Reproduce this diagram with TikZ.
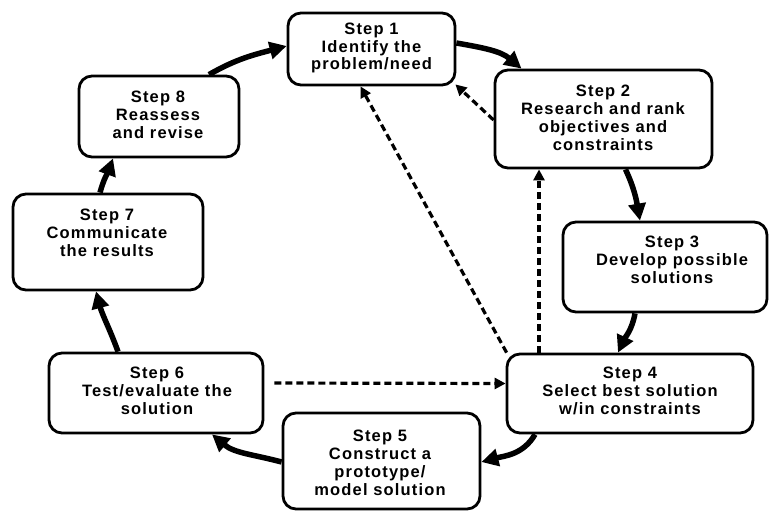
\documentclass[tikz,border=0pt]{standalone}
\usepackage{fontspec}
\setmainfont{Liberation Sans}[LetterSpace=7]
\usetikzlibrary{arrows.meta}
\begin{document}
\begin{tikzpicture}[x=1pt,y=1pt,
  box/.style={draw, line width=2.8pt, rounded corners=13pt, inner sep=0pt},
  lbl/.style={align=center, font=\bfseries\fontsize{16.5}{17.8}\selectfont, inner sep=0pt},
  cyc/.style={line width=5.5pt, -{Triangle[length=17pt,width=17pt]}},
  dsh/.style={line width=3.2pt, dash pattern=on 7pt off 4pt, -{Triangle[length=11pt,width=11pt]}}]
\useasboundingbox (0,0) rectangle (770,-514);
% boxes
\node[box, minimum width=167pt, minimum height=72pt] (s1) at (371.5,-49) {};
\node[box, minimum width=217pt, minimum height=98pt] (s2) at (603.5,-119) {};
\node[box, minimum width=204pt, minimum height=90pt] (s3) at (665,-267) {};
\node[box, minimum width=246pt, minimum height=79pt] (s4) at (630,-393.5) {};
\node[box, minimum width=197pt, minimum height=96pt] (s5) at (381.5,-461) {};
\node[box, minimum width=214pt, minimum height=80pt] (s6) at (156,-393) {};
\node[box, minimum width=190pt, minimum height=96pt] (s7) at (108,-242) {};
\node[box, minimum width=160pt, minimum height=81pt] (s8) at (159,-116.5) {};
% labels
\node[lbl] (t1) at (371.5,-48) {Step 1\\Identify the\\problem/need};
\node[lbl] (t2) at (603,-118) {Step 2\\Research and rank\\objectives and\\constraints};
\node[lbl] (t3) at (672,-260) {Step 3\\Develop possible\\solutions};
\node[lbl] (t4) at (630,-391) {Step 4\\Select best solution\\w/in constraints};
\node[lbl] (t5) at (380,-463) {Step 5\\Construct a\\prototype/\\model solution};
\node[lbl] (t6) at (157,-391) {Step 6\\Test/evaluate the\\solution};
\node[lbl] (t7) at (107,-233) {Step 7\\Communicate\\the results};
\node[lbl] (t8) at (158,-115) {Step 8\\Reassess\\and revise};
% cycle arrows
\draw[cyc] ([yshift=6pt]s1.east) to[out=-10,in=140] ([xshift=-82pt]s2.north);
\draw[cyc] ([xshift=22pt]s2.south) to[out=-65,in=100] ([xshift=-25pt]s3.north);
\draw[cyc] ([xshift=-30pt]s3.south) to[out=-100,in=65] ([xshift=-12pt]s4.north);
\draw[cyc] ([xshift=-95pt]s4.south) to[out=-120,in=15] ([yshift=-1pt]s5.east);
\draw[cyc] ([yshift=-1pt]s5.west) to[out=165,in=-40] ([xshift=56pt]s6.south);
\draw[cyc] ([xshift=-38pt]s6.north) to[out=110,in=-75] ([xshift=-12pt]s7.south);
\draw[cyc] ([xshift=-8pt]s7.north) to[out=75,in=-110] ([xshift=-46pt]s8.south);
\draw[cyc] ([xshift=50pt]s8.north) to[out=30,in=195] ([yshift=3pt]s1.west);
% dashed arrows
\draw[dsh] ([yshift=-1pt]s2.west) -- ([xshift=-1pt,yshift=2pt]s1.south east);
\draw[dsh] ([xshift=1pt]s4.north west) -- ([xshift=-11pt]s1.south);
\draw[dsh] ([xshift=-91pt]s4.north) -- ([xshift=-64.5pt]s2.south);
\draw[dsh] ([xshift=10pt,yshift=10pt]s6.east) -- ([yshift=10pt]s4.west);
\end{tikzpicture}
\end{document}
